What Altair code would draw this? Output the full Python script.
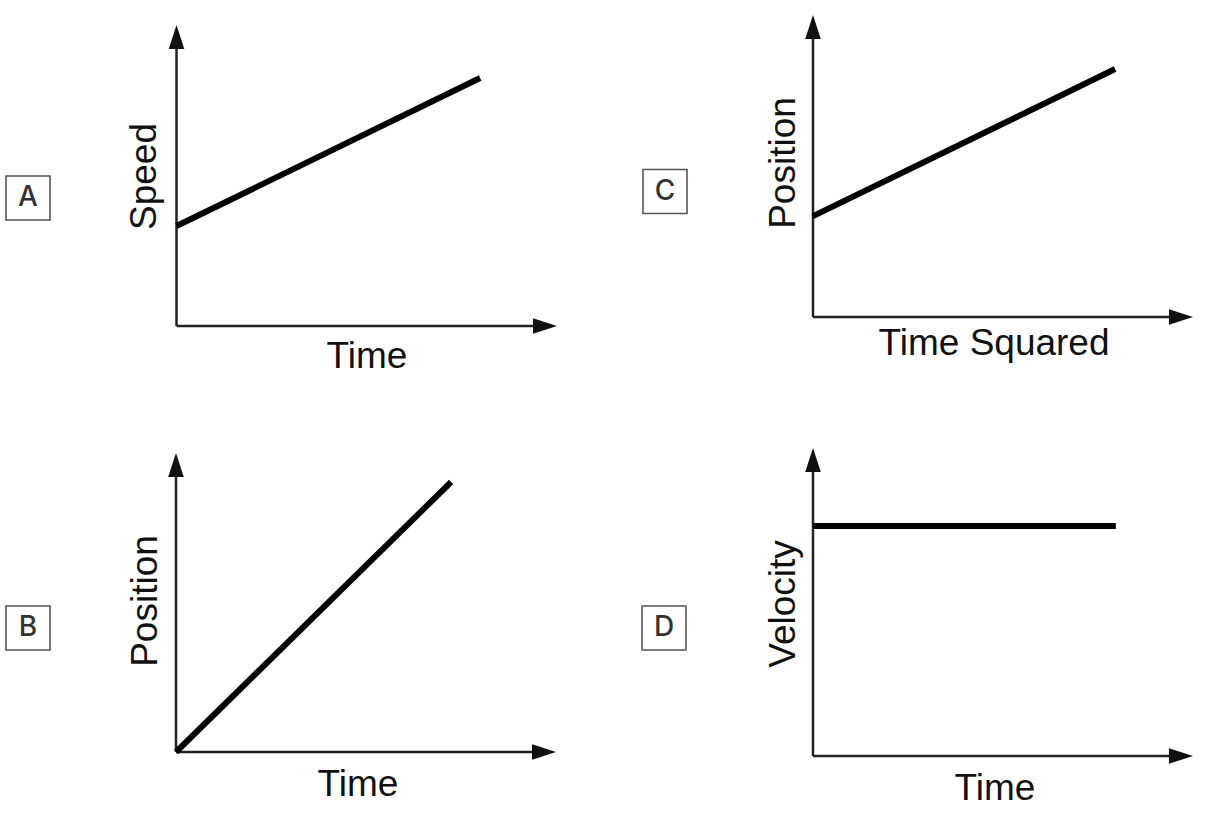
import altair as alt
import pandas as pd

# ---- data (order: top-left, top-right, bottom-left, bottom-right) ----
LABELS = ["A", "C", "B", "D"]
X_TITLES = ["Time", "Time Squared", "Time", "Time"]
Y_TITLES = ["Speed", "Position", "Position", "Velocity"]
# line endpoints as fractions of each axis length
LINE_X_START = [0.0, 0.0, 0.0, 0.0]
LINE_X_END = [0.798, 0.795, 0.724, 0.797]
LINE_Y_START = [0.332, 0.334, 0.0, 0.747]
LINE_Y_END = [0.824, 0.821, 0.903, 0.747]

# ---- layout (pixels) ----
W = 607
ROW_H = [411, 412]
ORIGIN = [(176.5, 326), (206, 317), (176, 341), (206, 345)]
AXIS_LEN = [(380.5, 301), (380, 302), (380, 299), (380, 308)]
BOX_OFF = [(-148.5, -128), (-148, -125.5), (-148, -124), (-149, -128)]
XT_OFF = [(190.5, 42), (181, 38), (182, 44), (182, 44)]
YT_OFF = [(-20.5, -149.5), (-18, -154), (-19, -151), (-18, -152)]
HEAD = 12  # half arrowhead length


def panel(i, h):
    ox, oy = ORIGIN[i]
    lx, ly = AXIS_LEN[i]
    xs = alt.Scale(domain=[-ox / lx, (W - ox) / lx], nice=False, zero=False)
    ys = alt.Scale(domain=[(oy - h) / ly, oy / ly], nice=False, zero=False)

    def X(f="x"):
        return alt.X(f, type="quantitative", scale=xs, axis=None)

    def Y(f="y"):
        return alt.Y(f, type="quantitative", scale=ys, axis=None)

    hx = 1 - HEAD / lx
    hy = 1 - HEAD / ly

    axes_df = pd.DataFrame({"x": [0, 0], "x2": [hx, 0], "y": [0, 0], "y2": [0, hy]})
    axes = alt.Chart(axes_df).mark_rule(color="#222", strokeWidth=2.5).encode(
        x=X(), x2="x2:Q", y=Y(), y2="y2:Q"
    )
    right = alt.Chart(pd.DataFrame({"x": [hx], "y": [0]})).mark_point(
        shape="M 1 0 L -1 -0.65 L -1 0.65 Z", filled=True, size=576,
        color="#111", opacity=1, strokeWidth=0
    ).encode(x=X(), y=Y())
    up = alt.Chart(pd.DataFrame({"x": [0], "y": [hy]})).mark_point(
        shape="M 0 -1 L -0.65 1 L 0.65 1 Z", filled=True, size=576,
        color="#111", opacity=1, strokeWidth=0
    ).encode(x=X(), y=Y())

    line_df = pd.DataFrame({
        "x": [LINE_X_START[i], LINE_X_END[i]],
        "y": [LINE_Y_START[i], LINE_Y_END[i]],
    })
    line = alt.Chart(line_df).mark_line(color="black", strokeWidth=6).encode(
        x=X(), y=Y()
    )

    bx, by = BOX_OFF[i]
    box_df = pd.DataFrame({"x": [bx / lx], "y": [-by / ly], "t": [LABELS[i]]})
    box = alt.Chart(box_df).mark_point(
        shape="square", filled=False, size=44 * 44, strokeWidth=1.6,
        color="#555", opacity=1
    ).encode(x=X(), y=Y())
    letter = alt.Chart(box_df).mark_text(
        font="Inter", fontSize=28, fontWeight=500, color="#333",
        align="center", baseline="middle"
    ).encode(x=X(), y=Y(), text="t:N")

    tx, ty = XT_OFF[i]
    xt_df = pd.DataFrame({"x": [tx / lx], "y": [-ty / ly], "t": [X_TITLES[i]]})
    xtitle = alt.Chart(xt_df).mark_text(
        font="Liberation Sans", fontSize=37, color="#111",
        align="center", baseline="alphabetic"
    ).encode(x=X(), y=Y(), text="t:N")

    yx, yy = YT_OFF[i]
    yt_df = pd.DataFrame({"x": [yx / lx], "y": [-yy / ly], "t": [Y_TITLES[i]]})
    ytitle = alt.Chart(yt_df).mark_text(
        font="Liberation Sans", fontSize=37, color="#111", angle=270,
        align="center", baseline="alphabetic"
    ).encode(x=X(), y=Y(), text="t:N")

    return alt.layer(axes, right, up, line, box, letter, xtitle, ytitle).properties(
        width=W, height=h
    )


row1 = alt.hconcat(panel(0, ROW_H[0]), panel(1, ROW_H[0]), spacing=0)
row2 = alt.hconcat(panel(2, ROW_H[1]), panel(3, ROW_H[1]), spacing=0)
chart = (
    alt.vconcat(row1, row2, spacing=0)
    .properties(padding=0, background="white")
    .configure_view(stroke=None)
)

chart.save("out.html", embed_options={"renderer": "svg", "actions": False})
